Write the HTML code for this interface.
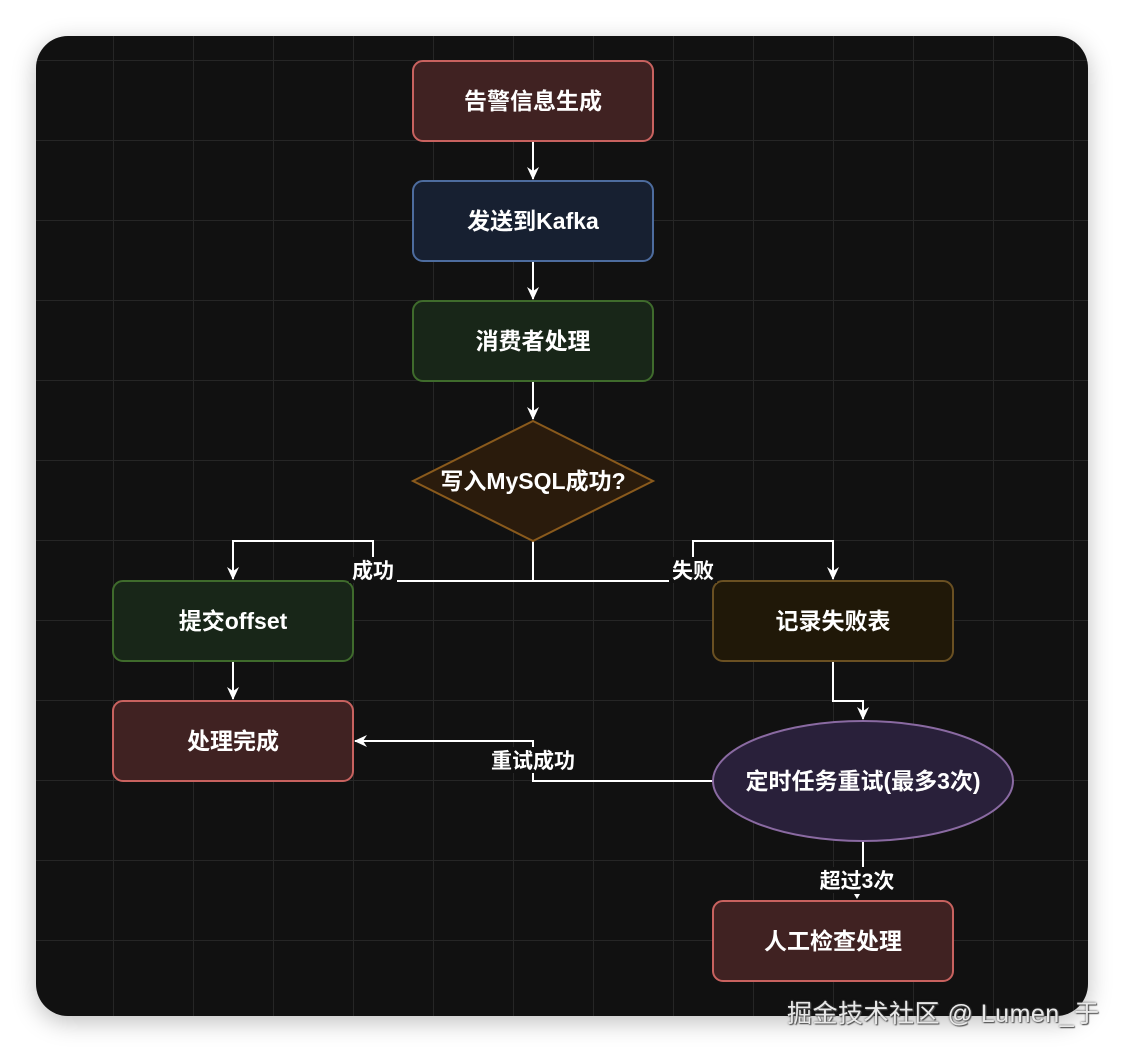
<!DOCTYPE html>
<html><head><meta charset="utf-8"><style>
html,body{margin:0;padding:0;background:#fff;}
body{width:1124px;height:1052px;position:relative;overflow:hidden;font-family:"Liberation Sans","Noto Sans CJK SC",sans-serif;}
.canvas{position:absolute;left:36px;top:36px;width:1052px;height:980px;border-radius:32px;background-color:#111;
background-image:linear-gradient(to right,#262626 1px,transparent 1px),linear-gradient(to bottom,#262626 1px,transparent 1px);
background-size:80px 80px;background-position:-3px 24px;box-shadow:0 6px 24px rgba(0,0,0,.25);}
.wm{position:absolute;left:787px;top:994px;font-size:25px;color:#e8e8e8;text-shadow:0 0 2px #444,1px 1px 1px #555;white-space:nowrap;letter-spacing:0.5px;}
</style></head><body>
<div class="canvas"></div>
<svg width="1124" height="1052" style="position:absolute;left:0;top:0" font-family="Liberation Sans, Noto Sans CJK SC, sans-serif">
<defs><marker id="a" markerWidth="14" markerHeight="14" refX="12" refY="6" orient="auto" markerUnits="userSpaceOnUse"><path d="M0,0 L13,6 L0,12 L4,6 z" fill="#fff"/></marker></defs>
<g fill="none" stroke="#fff" stroke-width="2">
<path d="M533 141V179" marker-end="url(#a)"/>
<path d="M533 261V299" marker-end="url(#a)"/>
<path d="M533 381V419" marker-end="url(#a)"/>
<path d="M533 541V581H373V541H233V579" marker-end="url(#a)"/>
<path d="M533 581H693V541H833V579" marker-end="url(#a)"/>
<path d="M233 661V699" marker-end="url(#a)"/>
<path d="M833 661V701H863V719" marker-end="url(#a)"/>
<path d="M713 781H533V741H355" marker-end="url(#a)"/>
<path d="M863 841V880"/>
</g>
<path d="M854 894L860 894L857 899z" fill="#fff"/>
<rect x="413" y="61" width="240" height="80" rx="10" fill="#402222" stroke="#c8625f" stroke-width="2"/>
<rect x="413" y="181" width="240" height="80" rx="10" fill="#172031" stroke="#4d6c9e" stroke-width="2"/>
<rect x="413" y="301" width="240" height="80" rx="10" fill="#182618" stroke="#3f6b2c" stroke-width="2"/>
<path d="M533 421L653 481L533 541L413 481z" fill="#2a1b0c" stroke="#8a5a1c" stroke-width="2"/>
<rect x="113" y="581" width="240" height="80" rx="10" fill="#182618" stroke="#3f6b2c" stroke-width="2"/>
<rect x="713" y="581" width="240" height="80" rx="10" fill="#201808" stroke="#6a5022" stroke-width="2"/>
<rect x="113" y="701" width="240" height="80" rx="10" fill="#402222" stroke="#c8625f" stroke-width="2"/>
<ellipse cx="863" cy="781" rx="150" ry="60" fill="#29203a" stroke="#8a6aa2" stroke-width="2"/>
<rect x="713" y="901" width="240" height="80" rx="10" fill="#402222" stroke="#c8625f" stroke-width="2"/>
<g fill="#fff" font-size="23" font-weight="bold" text-anchor="middle">
<text x="533" y="109">告警信息生成</text>
<text x="533" y="229">发送到Kafka</text>
<text x="533" y="349">消费者处理</text>
<text x="533" y="489">写入MySQL成功?</text>
<text x="233" y="629">提交offset</text>
<text x="833" y="629">记录失败表</text>
<text x="233" y="749">处理完成</text>
<text x="863" y="789">定时任务重试(最多3次)</text>
<text x="833" y="949">人工检查处理</text>
</g>
<g font-size="21" font-weight="bold" text-anchor="middle">
<rect x="349" y="557" width="48" height="26" fill="#111"/><text x="373" y="578" fill="#fff">成功</text>
<rect x="669" y="557" width="48" height="26" fill="#111"/><text x="693" y="578" fill="#fff">失败</text>
<rect x="487" y="747" width="92" height="26" fill="#111"/><text x="533" y="768" fill="#fff">重试成功</text>
<rect x="816" y="867" width="82" height="26" fill="#111"/><text x="857" y="888" fill="#fff">超过3次</text>
</g>
</svg>
<div class="wm">掘金技术社区 @ Lumen_于</div>
</body></html>
